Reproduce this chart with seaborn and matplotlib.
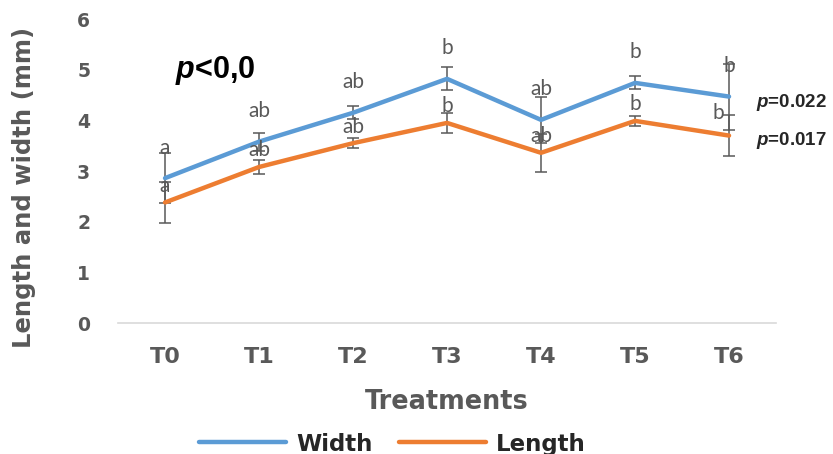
import numpy as np
import pandas as pd
import matplotlib
matplotlib.use("Agg")
import matplotlib.pyplot as plt
from matplotlib.lines import Line2D
import seaborn as sns

treatments = ["T0", "T1", "T2", "T3", "T4", "T5", "T6"]
width_mean = [2.86, 3.58, 4.15, 4.82, 4.01, 4.74, 4.47]
width_err = [0.50, 0.18, 0.13, 0.23, 0.45, 0.13, 0.65]
length_mean = [2.38, 3.08, 3.55, 3.95, 3.36, 3.99, 3.70]
length_err = [0.40, 0.13, 0.10, 0.20, 0.37, 0.10, 0.41]
width_letters = ["a", "ab", "ab", "b", "ab", "b", "b"]
length_letters = ["a", "ab", "ab", "b", "ab", "b", "b"]

BLUE = "#5B9BD5"
ORANGE = "#ED7D31"
GREY = "#595959"

df = pd.DataFrame({
    "Treatment": treatments * 2,
    "value": width_mean + length_mean,
    "series": ["Width"] * 7 + ["Length"] * 7,
})

sns.set_style("white")
plt.rcParams["font.family"] = ["DejaVu Sans"]
plt.rcParams["mathtext.fontset"] = "custom"
plt.rcParams["mathtext.rm"] = "Liberation Sans:bold"
plt.rcParams["mathtext.it"] = "Liberation Sans:italic:bold"
plt.rcParams["mathtext.bf"] = "Liberation Sans:bold"
plt.rcParams["mathtext.bfit"] = "Liberation Sans:italic:bold"

fig = plt.figure(figsize=(8.33, 4.54), dpi=100)
ax = fig.add_axes([0.1417, 0.2885, 0.7899, 0.6695])

sns.lineplot(data=df, x="Treatment", y="value", hue="series", sort=False,
             palette={"Width": BLUE, "Length": ORANGE}, linewidth=3.2,
             ax=ax, legend=False, zorder=3)

# error bars
ax.errorbar(treatments, width_mean, yerr=width_err, fmt="none", ecolor=GREY,
            elinewidth=1.1, capsize=4.5, capthick=1.1, zorder=2)
ax.errorbar(treatments, length_mean, yerr=length_err, fmt="none", ecolor=GREY,
            elinewidth=1.1, capsize=4.5, capthick=1.1, zorder=2)

# significance letters
for i, (m, s) in enumerate(zip(width_mean, width_letters)):
    ax.annotate(s, xy=(i, m), xytext=(0, 22), textcoords="offset points",
                ha="center", va="center", fontsize=15, color=GREY,
                family="Lato", zorder=4)
for i, (m, s) in enumerate(zip(length_mean, length_letters)):
    dx, dy = (0, 12) if i < 6 else (-8, 16)
    ax.annotate(s, xy=(i, m), xytext=(dx, dy), textcoords="offset points",
                ha="center", va="center", fontsize=15, color=GREY,
                family="Lato", zorder=4)

ax.set_ylim(0, 6)
ax.set_xlim(-0.5, 6.5)
ax.set_yticks(range(0, 7))
for sp in ["top", "right", "left"]:
    ax.spines[sp].set_visible(False)
ax.spines["bottom"].set_color("#D9D9D9")
ax.spines["bottom"].set_linewidth(1.2)
ax.tick_params(axis="both", length=0, labelcolor=GREY)
ax.tick_params(axis="x", pad=17, labelsize=16)
ax.tick_params(axis="y", pad=20, labelsize=13.5)
for lab in ax.get_xticklabels() + ax.get_yticklabels():
    lab.set_fontweight("bold")

ax.set_xlabel("Treatments", fontsize=18.4, fontweight="bold", color=GREY, labelpad=16)
ax.set_ylabel("Length and width (mm)", fontsize=17.5, fontweight="bold", color=GREY)
ax.yaxis.set_label_coords(-0.125, 0.447)

ax.text(0.086, 0.83, r"$\boldsymbol{p}$<0,0", transform=ax.transAxes, fontsize=22,
        fontweight="bold", family="Liberation Sans", color="black",
        ha="left", va="center")
fig.text(0.907, 0.775, r"$\boldsymbol{p}$=0.022", fontsize=13.5, fontweight="bold",
         family="Liberation Sans", ha="left", va="center")
fig.text(0.907, 0.690, r"$\boldsymbol{p}$=0.017", fontsize=13.5, fontweight="bold",
         family="Liberation Sans", ha="left", va="center")

handles = [Line2D([], [], color=BLUE, lw=3.2), Line2D([], [], color=ORANGE, lw=3.2)]
fig.legend(handles, ["Width", "Length"], loc="center", bbox_to_anchor=(0.471, 0.022),
           ncol=2, frameon=False, handlelength=3.8, handletextpad=0.45,
           columnspacing=1.15, prop={"weight": "bold", "size": 16.5})

fig.savefig("out.png", dpi=100)
